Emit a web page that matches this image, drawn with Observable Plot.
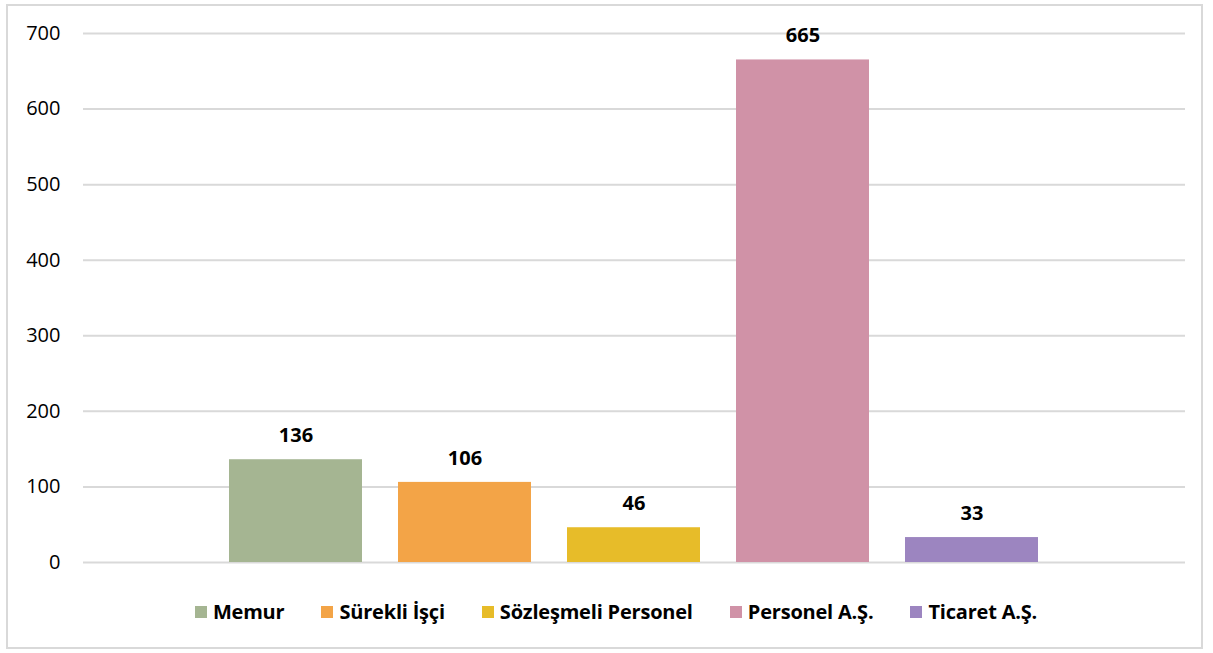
<!DOCTYPE html>
<html>
<head>
<meta charset="utf-8">
<script src="https://cdn.jsdelivr.net/npm/d3@7"></script>
<script src="https://cdn.jsdelivr.net/npm/@observablehq/plot@0.6"></script>
<style>
  body { margin: 0; background: #fff; font-family: "Open Sans", "Noto Sans", sans-serif; }
  #wrap { position: relative; width: 1213px; height: 653px; }
  #frame { position: absolute; left: 6px; top: 4px; width: 1197px; height: 645px; border: 2px solid #d9d9d9; box-sizing: border-box; pointer-events: none; }
  #chart { position: absolute; left: 0; top: 0; }
  #legend { position: absolute; left: 17px; top: 598px; width: 1198px; display: flex; justify-content: center; gap: 37px; font-weight: bold; font-size: 20px; color: #000; letter-spacing: -0.2px; }
  .item { display: flex; align-items: center; }
  .sw { width: 12px; height: 12px; margin-right: 6px; }
</style>
</head>
<body>
<div id="wrap">
  <div id="chart"></div>
  <div id="legend"></div>
  <div id="frame"></div>
</div>
<script>
const categories = ["Memur", "Sürekli İşçi", "Sözleşmeli Personel", "Personel A.Ş.", "Ticaret A.Ş."];
const values = [136, 106, 46, 665, 33];
const colors = ["#a5b592", "#f3a447", "#e7bc29", "#d092a7", "#9c85c0"];
const yTicks = [0, 100, 200, 300, 400, 500, 600, 700];

const data = categories.map((c, i) => ({category: c, value: values[i]}));

const plot = Plot.plot({
  width: 1213,
  height: 590,
  marginLeft: 83,
  marginRight: 28,
  marginTop: 33,
  marginBottom: 28,
  style: {fontFamily: "'Open Sans', 'Noto Sans', sans-serif", fontSize: "20px", color: "#000", background: "transparent"},
  x: {domain: categories, range: [229, 1039], paddingInner: 0.213, paddingOuter: 0, axis: null},
  y: {domain: [0, 700], ticks: yTicks, tickSize: 0, tickPadding: 23, label: null, grid: false},
  color: {domain: categories, range: colors},
  marks: [
    Plot.ruleY(yTicks, {stroke: "#d9d9d9", strokeWidth: 2, strokeOpacity: 1}),
    Plot.barY(data, {x: "category", y: "value", fill: "category"}),
    Plot.text(data, {x: "category", y: "value", text: d => String(d.value), dy: -24, fontWeight: "bold", fontSize: 20, fill: "#000"}),
    Plot.axisY({ticks: yTicks, tickSize: 0, tickPadding: 23, fontSize: 20, label: null})
  ]
});
document.getElementById("chart").appendChild(plot);

const legend = document.getElementById("legend");
categories.forEach((c, i) => {
  const item = document.createElement("div");
  item.className = "item";
  const sw = document.createElement("span");
  sw.className = "sw";
  sw.style.background = colors[i];
  const t = document.createElement("span");
  t.textContent = c;
  item.appendChild(sw);
  item.appendChild(t);
  legend.appendChild(item);
});
</script>
</body>
</html>
